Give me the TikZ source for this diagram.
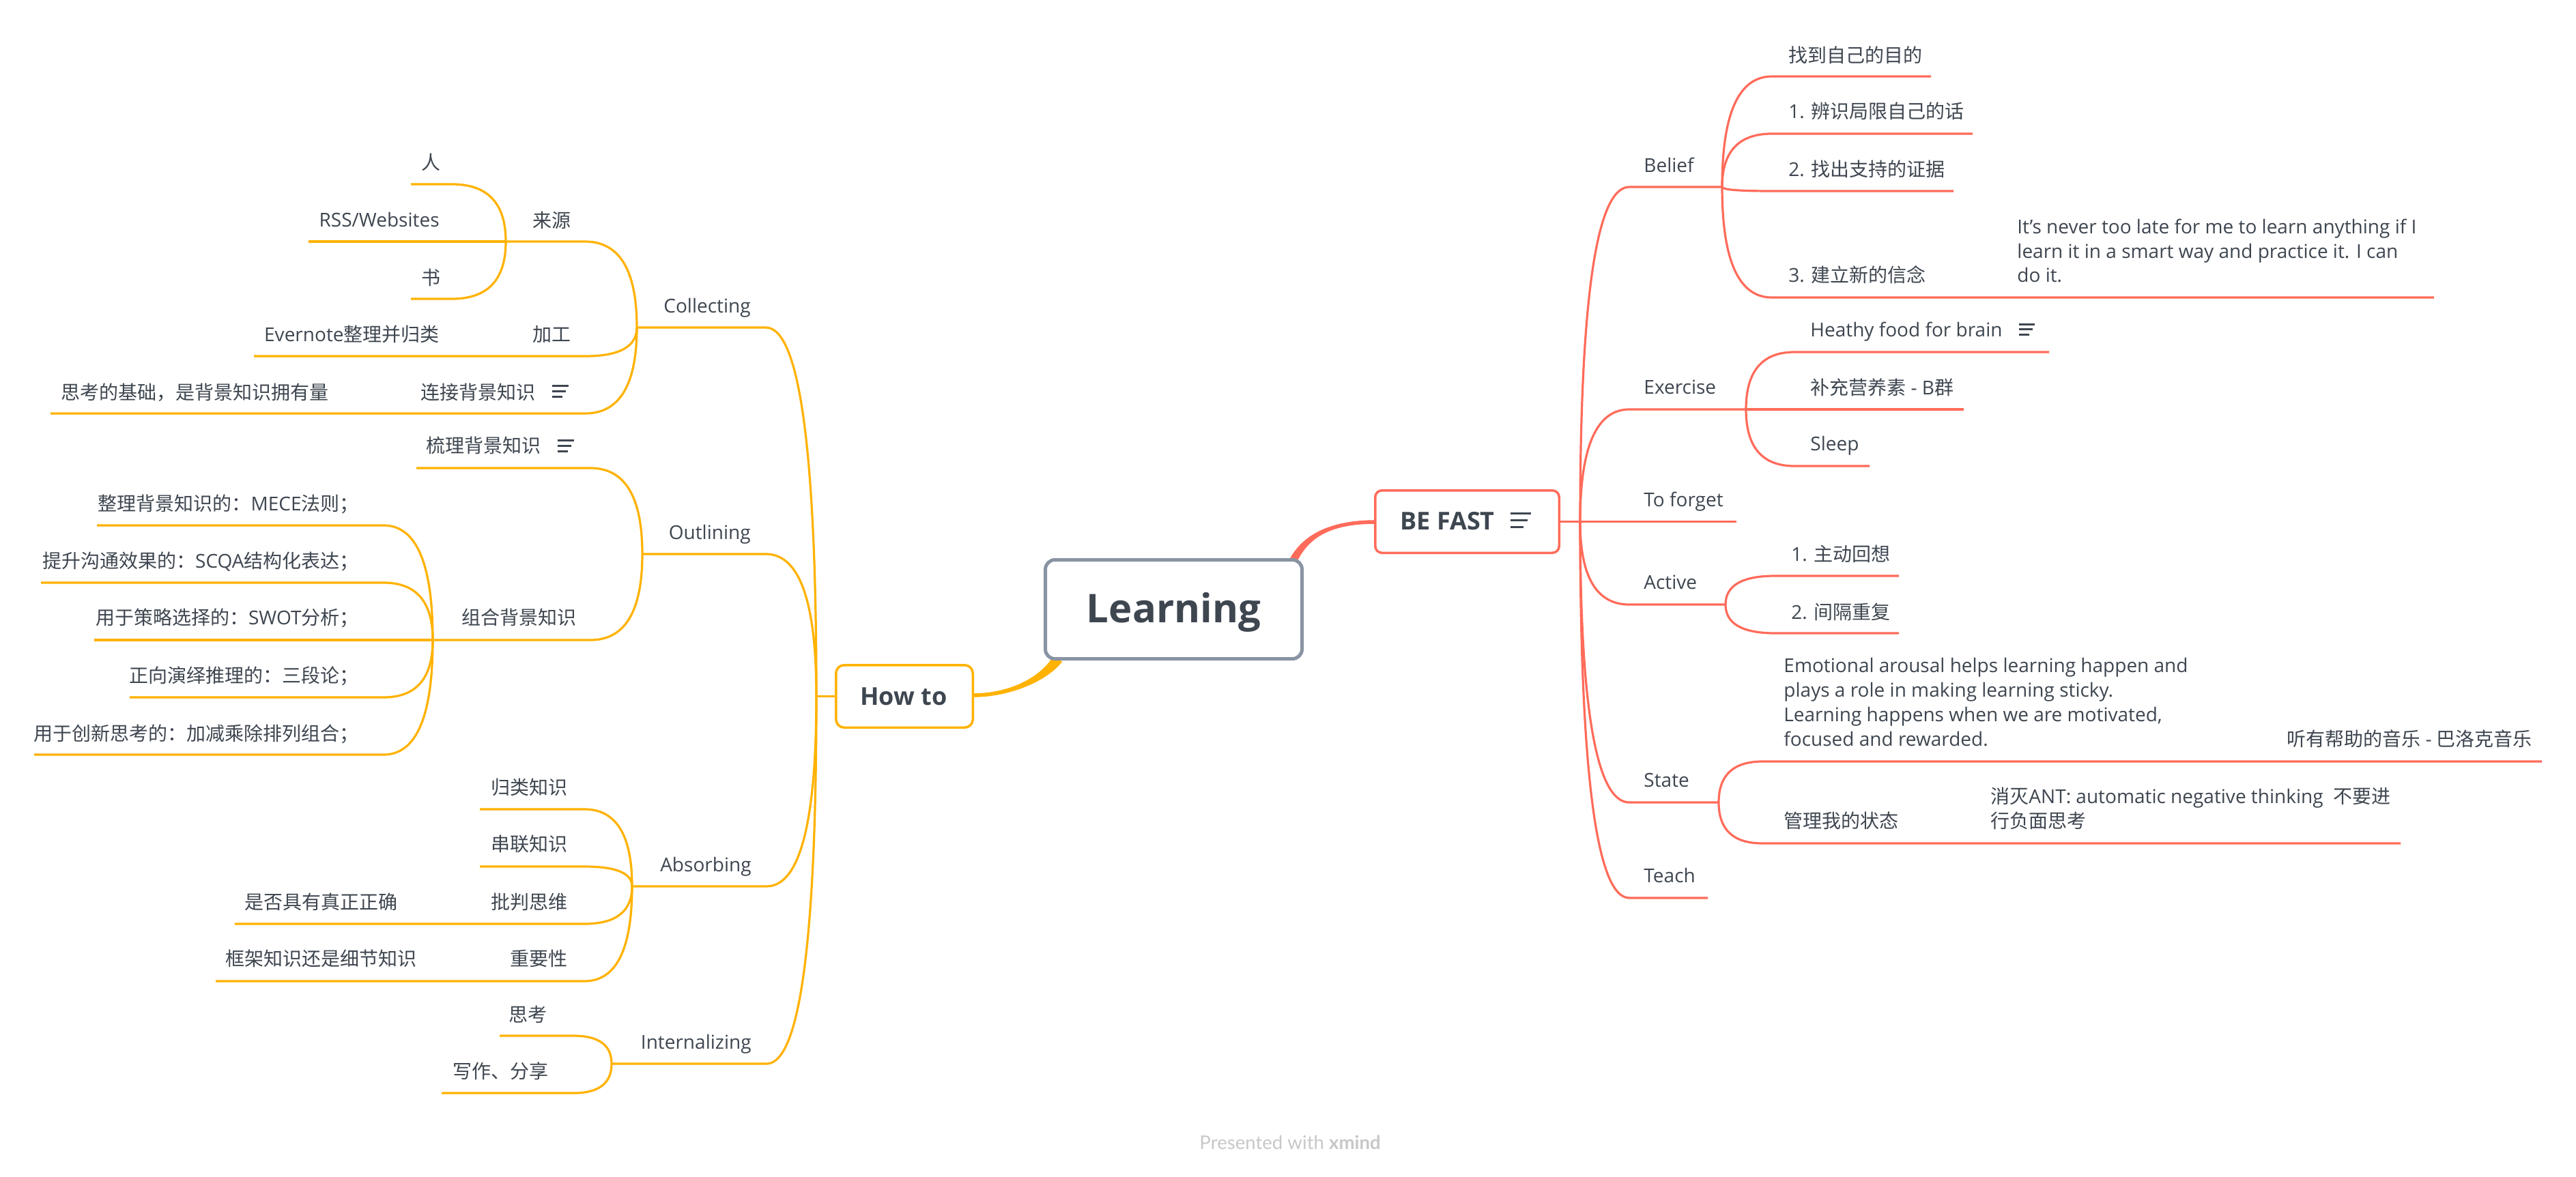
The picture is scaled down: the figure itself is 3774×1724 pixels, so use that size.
\documentclass[tikz,border=0pt]{standalone}
\usepackage{fontspec}
\setmainfont{Open Sans}
\newfontfamily\cjk{Noto Sans CJK SC}
\newfontfamily\latofont{Lato}
\usetikzlibrary{calc}
\definecolor{txt}{RGB}{62,70,80}
\definecolor{coral}{RGB}{255,107,90}
\definecolor{amber}{RGB}{255,178,0}
\definecolor{rootgray}{RGB}{136,147,163}
\definecolor{foot}{RGB}{200,200,200}
\newcommand\mmconn[4]{\draw[#1] (#2) .. controls ($(#2)!0.6667!(#2|-#3)$) and ($(#3)!0.6667!(#2|-#3)$) .. (#3) -- (#4);}
\tikzset{
  rl/.style={anchor=base west, inner sep=0pt, text=txt, font=\fontsize{14}{18}\selectfont},
  ll/.style={anchor=base east, inner sep=0pt, text=txt, font=\fontsize{14}{18}\selectfont},
  rline/.style={draw=coral, line width=1.6pt},
  oline/.style={draw=amber, line width=1.6pt},
  titlefont/.style={font=\bfseries\fontsize{18}{22}\selectfont, text=txt, inner sep=0pt},
  noteicon/.pic={\draw[txt, line width=1.5pt] (0,0) -- (30,0) (0,10) -- (25,10) (0,20) -- (19,20);}
}
\begin{document}
\begin{tikzpicture}[x=0.5pt,y=-0.5pt]
\fill[white] (0,0) rectangle (3774,1724);
\useasboundingbox (0,0) rectangle (3774,1724);

% ---------- tapered main connectors ----------
\fill[coral] (1888,822) .. controls (1907.5,783) and (1950,762.25) .. (2015,762.25) -- (2015,767.75) .. controls (1950,767.75) and (1916.5,787) .. (1899,826) -- cycle;
\fill[amber] (1556,970) .. controls (1534,998) and (1480,1021.75) .. (1425,1021.75) -- (1425,1016.25) .. controls (1480,1016.25) and (1526,992) .. (1544,960) -- cycle;

% ---------- central boxes ----------
\node[draw=rootgray, line width=2.5pt, rounded corners=7pt, fill=white, minimum width=188pt, minimum height=72.5pt, inner sep=0pt] (root) at (1719.5,893) {};
\node[anchor=base, inner sep=0pt, text=txt, font=\bfseries\fontsize{29}{35}\selectfont] (rootT) at (1719.5,912) {Learning};

\node[draw=coral, line width=1.75pt, rounded corners=5pt, fill=white, minimum width=134.75pt, minimum height=45.75pt, inner sep=0pt] (befast) at (2149.5,764.5) {};
\node[titlefont, anchor=base west] (befastT) at (2051,776) {BE FAST};
\pic at (2213,752) {noteicon};

\node[draw=amber, line width=1.75pt, rounded corners=6pt, fill=white, minimum width=100.25pt, minimum height=45.75pt, inner sep=0pt] (howto) at (1325,1020.5) {};
\node[titlefont, anchor=base] (howtoT) at (1324,1033) {How to};

% ---------- right side coordinates ----------
\coordinate (jR) at (2315,764.5);
\coordinate (cBel) at (2387,274);  \coordinate (jBel) at (2523,274);
\coordinate (cB1) at (2596,112);   \coordinate (eB1) at (2829,112);
\coordinate (cB2) at (2596,196);   \coordinate (eB2) at (2890,196);
\coordinate (cB3) at (2596,280);   \coordinate (eB3) at (2862,280);
\coordinate (cB4) at (2596,436);   \coordinate (eB4) at (3566,436);
\coordinate (cEx) at (2387,600);   \coordinate (jEx) at (2558,600);
\coordinate (cE1) at (2629,516);   \coordinate (eE1) at (3002,516);
\coordinate (eE2) at (2877,600);
\coordinate (cE3) at (2629,683);   \coordinate (eE3) at (2739,683);
\coordinate (eTf) at (2544,764.5);
\coordinate (cAc) at (2387,886);   \coordinate (jAc) at (2528,886);
\coordinate (cA1) at (2601,844);   \coordinate (eA1) at (2782,844);
\coordinate (cA2) at (2601,928);   \coordinate (eA2) at (2782,928);
\coordinate (cSt) at (2387,1176);  \coordinate (jSt) at (2518,1176);
\coordinate (cS1) at (2582,1116);  \coordinate (eS1) at (3724,1116);
\coordinate (cS2) at (2582,1236);  \coordinate (eS2) at (3517,1236);
\coordinate (cTe) at (2387,1316);  \coordinate (eTe) at (2502,1316);

\draw[rline] (befast.east) -- (jR) -- (eTf);
\mmconn{rline}{jR}{cBel}{jBel}
\mmconn{rline}{jBel}{cB1}{eB1}
\mmconn{rline}{jBel}{cB2}{eB2}
\mmconn{rline}{jBel}{cB3}{eB3}
\mmconn{rline}{jBel}{cB4}{eB4}
\mmconn{rline}{jR}{cEx}{jEx}
\mmconn{rline}{jEx}{cE1}{eE1}
\draw[rline] (jEx) -- (eE2);
\mmconn{rline}{jEx}{cE3}{eE3}
\mmconn{rline}{jR}{cAc}{jAc}
\mmconn{rline}{jAc}{cA1}{eA1}
\mmconn{rline}{jAc}{cA2}{eA2}
\mmconn{rline}{jR}{cSt}{jSt}
\mmconn{rline}{jSt}{cS1}{eS1}
\mmconn{rline}{jSt}{cS2}{eS2}
\mmconn{rline}{jR}{cTe}{eTe}

% ---------- right side labels ----------
\node[rl] (tBel) at (2408,252) {Belief};
\node[rl] (tB1) at (2620,91) {\cjk 找到自己的目的};
\node[rl] (tB2) at (2620,173) {1. {\cjk 辨识局限自己的话}};
\node[rl] (tB3) at (2620,258) {2. {\cjk 找出支持的证据}};
\node[rl] (tB4) at (2620,413) {3. {\cjk 建立新的信念}};
\node[rl] (tB4a) at (2955,342) {It's never too late for me to learn anything if I};
\node[rl] (tB4b) at (2955,378) {learn it in a smart way and practice it. I can};
\node[rl] (tB4c) at (2955,413) {do it.};
\node[rl] (tEx) at (2408,577) {Exercise};
\node[rl] (tE1) at (2652,493) {Heathy food for brain};
\pic[scale=0.78] at (2958,475) {noteicon};
\node[rl] (tE2) at (2652,578) {{\cjk 补充营养素} - B{\cjk 群}};
\node[rl] (tE3) at (2652,660) {Sleep};
\node[rl] (tTf) at (2408,742) {To forget};
\node[rl] (tAc) at (2408,863) {Active};
\node[rl] (tA1) at (2624,822) {1. {\cjk 主动回想}};
\node[rl] (tA2) at (2624,907) {2. {\cjk 间隔重复}};
\node[rl] (tSt) at (2408,1153) {State};
\node[rl] (tS1a) at (2613,985) {Emotional arousal helps learning happen and};
\node[rl] (tS1b) at (2613,1021) {plays a role in making learning sticky.};
\node[rl] (tS1c) at (2613,1057) {Learning happens when we are motivated,};
\node[rl] (tS1d) at (2613,1093) {focused and rewarded.};
\node[rl] (tS1e) at (3350,1093) {{\cjk 听有帮助的音乐} - {\cjk 巴洛克音乐}};
\node[rl] (tS2) at (2613,1213) {\cjk 管理我的状态};
\node[rl] (tS2a) at (2916,1177) {{\cjk 消灭}ANT: automatic negative thinking\ \ {\cjk 不要进}};
\node[rl] (tS2b) at (2916,1213) {\cjk 行负面思考};
\node[rl] (tTe) at (2408,1293) {Teach};

% ---------- left side coordinates ----------
\coordinate (jL) at (1196,1020.5);
\coordinate (cCo) at (1122,480);   \coordinate (jCo) at (933,480);
\coordinate (cC1) at (857,354);    \coordinate (jC1) at (741,354);
\coordinate (cC1a) at (662,270);   \coordinate (eC1a) at (602,270);
\coordinate (eC1b) at (452,354);
\coordinate (cC1c) at (662,438);   \coordinate (eC1c) at (602,438);
\coordinate (cC2) at (857,522);    \coordinate (eC2) at (372,522);
\coordinate (cC3) at (857,606);    \coordinate (eC3) at (74,606);
\coordinate (cOu) at (1122,812);   \coordinate (jOu) at (941,812);
\coordinate (cO1) at (865,686);    \coordinate (eO1) at (610,686);
\coordinate (cO2) at (865,938);    \coordinate (jO2) at (634,938);
\coordinate (cO2a) at (562,770);   \coordinate (eO2a) at (142,770);
\coordinate (cO2b) at (562,854);   \coordinate (eO2b) at (60,854);
\coordinate (eO2c) at (138,938);
\coordinate (cO2d) at (562,1022);  \coordinate (eO2d) at (190,1022);
\coordinate (cO2e) at (562,1106);  \coordinate (eO2e) at (50,1106);
\coordinate (cAb) at (1123,1299);  \coordinate (jAb) at (926,1299);
\coordinate (cAb1) at (856,1186);  \coordinate (eAb1) at (703,1186);
\coordinate (cAb2) at (856,1270);  \coordinate (eAb2) at (703,1270);
\coordinate (cAb3) at (856,1354);  \coordinate (eAb3) at (344,1354);
\coordinate (cAb4) at (856,1438);  \coordinate (eAb4) at (316,1438);
\coordinate (cIn) at (1123,1559);  \coordinate (jIn) at (896,1559);
\coordinate (cIn1) at (840,1518);  \coordinate (eIn1) at (732,1518);
\coordinate (cIn2) at (840,1602);  \coordinate (eIn2) at (647,1602);

\draw[oline] (howto.west) -- (jL);
\mmconn{oline}{jL}{cCo}{jCo}
\mmconn{oline}{jCo}{cC1}{jC1}
\mmconn{oline}{jC1}{cC1a}{eC1a}
\draw[oline] (jC1) -- (eC1b);
\mmconn{oline}{jC1}{cC1c}{eC1c}
\mmconn{oline}{jCo}{cC2}{eC2}
\mmconn{oline}{jCo}{cC3}{eC3}
\mmconn{oline}{jL}{cOu}{jOu}
\mmconn{oline}{jOu}{cO1}{eO1}
\mmconn{oline}{jOu}{cO2}{jO2}
\mmconn{oline}{jO2}{cO2a}{eO2a}
\mmconn{oline}{jO2}{cO2b}{eO2b}
\draw[oline] (jO2) -- (eO2c);
\mmconn{oline}{jO2}{cO2d}{eO2d}
\mmconn{oline}{jO2}{cO2e}{eO2e}
\mmconn{oline}{jL}{cAb}{jAb}
\mmconn{oline}{jAb}{cAb1}{eAb1}
\mmconn{oline}{jAb}{cAb2}{eAb2}
\mmconn{oline}{jAb}{cAb3}{eAb3}
\mmconn{oline}{jAb}{cAb4}{eAb4}
\mmconn{oline}{jL}{cIn}{jIn}
\mmconn{oline}{jIn}{cIn1}{eIn1}
\mmconn{oline}{jIn}{cIn2}{eIn2}

% ---------- left side labels ----------
\node[ll] (tCo) at (1100,458) {Collecting};
\node[ll] (tC1) at (837,333) {\cjk 来源};
\node[ll] (tC1a) at (646,248) {\cjk 人};
\node[ll] (tC1b) at (644,332) {RSS/Websites};
\node[ll] (tC1c) at (646,417) {\cjk 书};
\node[ll] (tC2) at (837,500) {\cjk 加工};
\node[ll] (tC2a) at (644,500) {Evernote{\cjk 整理并归类}};
\node[ll] (tC3) at (785,585) {\cjk 连接背景知识};
\pic[scale=0.8] at (809,565) {noteicon};
\node[ll] (tC3a) at (482,585) {\cjk 思考的基础，是背景知识拥有量};
\node[ll] (tOu) at (1100,790) {Outlining};
\node[ll] (tO1) at (793,663) {\cjk 梳理背景知识};
\pic[scale=0.8] at (817,645) {noteicon};
\node[ll] (tO2) at (845,915) {\cjk 组合背景知识};
\node[ll] (tO2a) at (526,748) {{\cjk 整理背景知识的：}MECE{\cjk 法则；}};
\node[ll] (tO2b) at (526,832) {{\cjk 提升沟通效果的：}SCQA{\cjk 结构化表达；}};
\node[ll] (tO2c) at (526,915) {{\cjk 用于策略选择的：}SWOT{\cjk 分析；}};
\node[ll] (tO2d) at (526,1000) {\cjk 正向演绎推理的：三段论；};
\node[ll] (tO2e) at (526,1085) {\cjk 用于创新思考的：加减乘除排列组合；};
\node[ll] (tAb) at (1101,1277) {Absorbing};
\node[ll] (tAb1) at (832,1164) {\cjk 归类知识};
\node[ll] (tAb2) at (832,1247) {\cjk 串联知识};
\node[ll] (tAb3) at (832,1332) {\cjk 批判思维};
\node[ll] (tAb3a) at (583,1332) {\cjk 是否具有真正正确};
\node[ll] (tAb4) at (832,1415) {\cjk 重要性};
\node[ll] (tAb4a) at (611,1415) {\cjk 框架知识还是细节知识};
\node[ll] (tIn) at (1101,1537) {Internalizing};
\node[ll] (tIn1) at (802,1497) {\cjk 思考};
\node[ll] (tIn2) at (804,1580) {\cjk 写作、分享};

% ---------- footer ----------
\node[anchor=base west, inner sep=0pt, text=foot, font=\latofont\fontsize{13.8}{16}\selectfont] (foot) at (1757,1684) {Presented with \textbf{xmind}};
\end{tikzpicture}
\end{document}
